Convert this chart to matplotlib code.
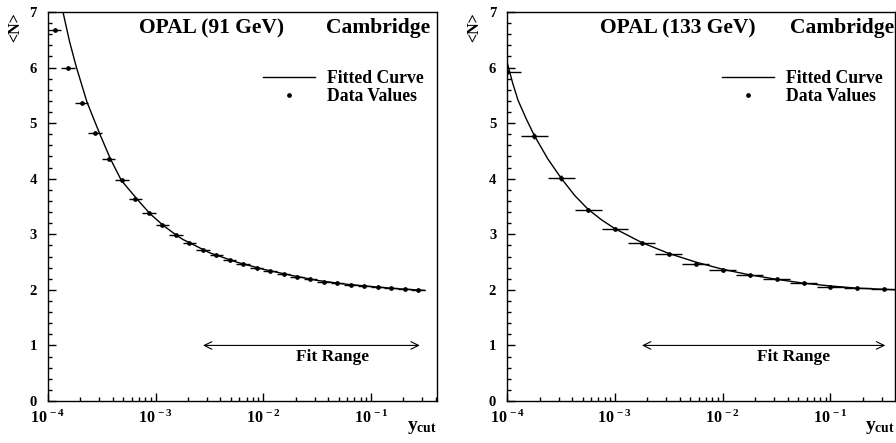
import numpy as np
import matplotlib
matplotlib.use("Agg")
import matplotlib.pyplot as plt
from matplotlib.lines import Line2D
from matplotlib.ticker import LogLocator, MultipleLocator, FixedLocator, FixedFormatter, NullFormatter

plt.rcParams['font.family'] = ['Liberation Serif', 'DejaVu Serif']
plt.rcParams['font.weight'] = 'bold'
plt.rcParams['mathtext.fontset'] = 'custom'
plt.rcParams['mathtext.rm'] = 'Liberation Serif:bold'
plt.rcParams['mathtext.it'] = 'Liberation Serif:bold'
plt.rcParams['mathtext.bf'] = 'Liberation Serif:bold'

# ---- 91 GeV (log10 of y_cut bin centres, mean jet rate) ----
logy_91 = [-3.9375, -3.8125, -3.6875, -3.5625, -3.4375, -3.3125, -3.1875, -3.0625,
           -2.9375, -2.8125, -2.6875, -2.5625, -2.4375, -2.3125, -2.1875, -2.0625,
           -1.9375, -1.8125, -1.6875, -1.5625, -1.4375, -1.3125, -1.1875, -1.0625,
           -0.9375, -0.8125, -0.6875, -0.5625]
nmean_91 = [6.68, 5.99, 5.37, 4.82, 4.36, 3.97, 3.64, 3.38,
            3.165, 2.98, 2.836, 2.716, 2.62, 2.536, 2.464, 2.40,
            2.338, 2.29, 2.24, 2.19, 2.15, 2.12, 2.09, 2.07,
            2.05, 2.03, 2.01, 2.00]
halfbin_91 = 0.0625

# fitted curve
fit_logy_91 = [-3.875, -3.861, -3.80, -3.737, -3.638, -3.52, -3.421, -3.319, -3.176,
               -3.053, -2.93, -2.805, -2.75, -2.5, -2.25, -2.0, -1.75, -1.5, -1.25,
               -1.0, -0.75, -0.5]
fit_n_91 = [7.10, 7.00, 6.47, 6.01, 5.38, 4.81, 4.36, 3.97, 3.64,
            3.37, 3.16, 2.98, 2.91, 2.668, 2.50, 2.37, 2.265, 2.17, 2.105,
            2.06, 2.02, 1.99]

# ---- 133 GeV ----
logy_133 = [-4.0, -3.75, -3.5, -3.25, -3.0, -2.75, -2.5, -2.25, -2.0, -1.75,
            -1.5, -1.25, -1.0, -0.75, -0.5]
nmean_133 = [5.92, 4.77, 4.01, 3.44, 3.10, 2.84, 2.64, 2.46, 2.35, 2.26,
             2.19, 2.12, 2.06, 2.03, 2.01]
nerr_133 = [0.04, 0.05, 0.05, 0.04, 0.03, 0.02, 0.02, 0.02, 0.02, 0.01,
            0.01, 0.01, 0.01, 0.01, 0.01]
halfbin_133 = 0.125

fit_logy_133 = [-4.0, -3.95, -3.9, -3.825, -3.75, -3.625, -3.5, -3.375, -3.25, -3.125,
                -3.0, -2.75, -2.5, -2.25, -2.0, -1.75, -1.5, -1.25, -1.0, -0.75,
                -0.5, -0.39]
fit_n_133 = [6.08, 5.72, 5.41, 5.08, 4.78, 4.36, 4.01, 3.70, 3.45, 3.26,
             3.10, 2.85, 2.655, 2.50, 2.37, 2.27, 2.19, 2.12, 2.07, 2.03,
             2.01, 2.00]

panels = [
    dict(logy=logy_91, n=nmean_91, nerr=None, hb=halfbin_91,
         flx=fit_logy_91, fn=fit_n_91, xmax=0.41,
         title='OPAL (91 GeV)', title_x=0.42, camb_x=0.982,
         fit_range=(2.75e-3, 0.284), fit_text_x=0.0443),
    dict(logy=logy_133, n=nmean_133, nerr=nerr_133, hb=halfbin_133,
         flx=fit_logy_133, fn=fit_n_133, xmax=0.395,
         title='OPAL (133 GeV)', title_x=0.441, camb_x=0.999,
         fit_range=(1.78e-3, 0.323), fit_text_x=0.045),
]

fig = plt.figure(figsize=(8.96, 4.43), dpi=100)
ax_rects = [[48 / 896, 42 / 443, 389 / 896, 389 / 443],
            [507.3 / 896, 42 / 443, 387.4 / 896, 389 / 443]]

xticks = [1e-4, 1e-3, 1e-2, 1e-1]
xlabels = [r'$10^{\,-4}$', r'$10^{\,-3}$', r'$10^{\,-2}$', r'$10^{\,-1}$']

for rect, p in zip(ax_rects, panels):
    ax = fig.add_axes(rect)
    x = 10 ** np.array(p['logy'])
    xerr = [x * (1 - 10 ** -p['hb']), x * (10 ** p['hb'] - 1)]
    fx = 10 ** np.array(p['flx'])

    ax.plot(fx, p['fn'], color='black', lw=1.0)
    ax.errorbar(x, p['n'], xerr=xerr, yerr=p['nerr'], fmt='o', color='black',
                ms=2.4, elinewidth=1.0, capsize=0)

    ax.set_xscale('log')
    ax.set_xlim(1e-4, p['xmax'])
    ax.set_ylim(0, 7)

    ax.xaxis.set_major_locator(FixedLocator(xticks))
    ax.xaxis.set_major_formatter(FixedFormatter(xlabels))
    ax.xaxis.set_minor_locator(LogLocator(base=10, subs=np.arange(2, 10), numticks=20))
    ax.xaxis.set_minor_formatter(NullFormatter())
    ax.yaxis.set_major_locator(MultipleLocator(1))
    ax.yaxis.set_minor_locator(MultipleLocator(0.2))

    ax.tick_params(which='both', direction='in', top=False, right=False, width=1.0)
    ax.tick_params(axis='x', which='major', length=6, labelsize=11.5, pad=6.5)
    ax.tick_params(axis='x', which='minor', length=3.2)
    ax.tick_params(axis='y', which='major', length=5.5, labelsize=10.5, pad=8)
    ax.tick_params(axis='y', which='minor', length=3)
    for s in ax.spines.values():
        s.set_linewidth(1.0)

    ax.text(p['title_x'], 0.984, p['title'], transform=ax.transAxes, ha='center', va='top',
            fontsize=15.5, fontweight='bold')
    ax.text(p['camb_x'], 0.984, 'Cambridge', transform=ax.transAxes, ha='right', va='top',
            fontsize=15.5, fontweight='bold')

    handles = [Line2D([], [], color='black', lw=1.0),
               Line2D([], [], color='black', ls='none', marker='o', ms=2.4)]
    leg = ax.legend(handles, ['Fitted Curve', 'Data Values'], loc='upper left',
                    bbox_to_anchor=(0.553, 0.85), frameon=False,
                    fontsize=12.7, handlelength=2.95, handletextpad=0.7,
                    labelspacing=0.02, borderpad=0, borderaxespad=0)
    for t in leg.get_texts():
        t.set_fontweight('bold')

    ax.annotate('', xy=(p['fit_range'][1], 1.0), xytext=(p['fit_range'][0], 1.0),
                arrowprops=dict(arrowstyle='<->, head_length=0.55, head_width=0.27',
                                lw=0.8, color='black', shrinkA=0, shrinkB=0))
    ax.text(p['fit_text_x'], 0.80, 'Fit Range', ha='center', va='center',
            fontsize=12.5, fontweight='bold')

    ax.text(-0.085, 0.962, r'<N>', transform=ax.transAxes, rotation=90,
            ha='center', va='center', fontsize=11.5, fontweight='bold')
    ax.text(1.0, -0.047, r'$\mathrm{y}_{\mathrm{cut}}$', transform=ax.transAxes,
            ha='right', va='top', fontsize=14)

fig.savefig('out.png', dpi=100)
